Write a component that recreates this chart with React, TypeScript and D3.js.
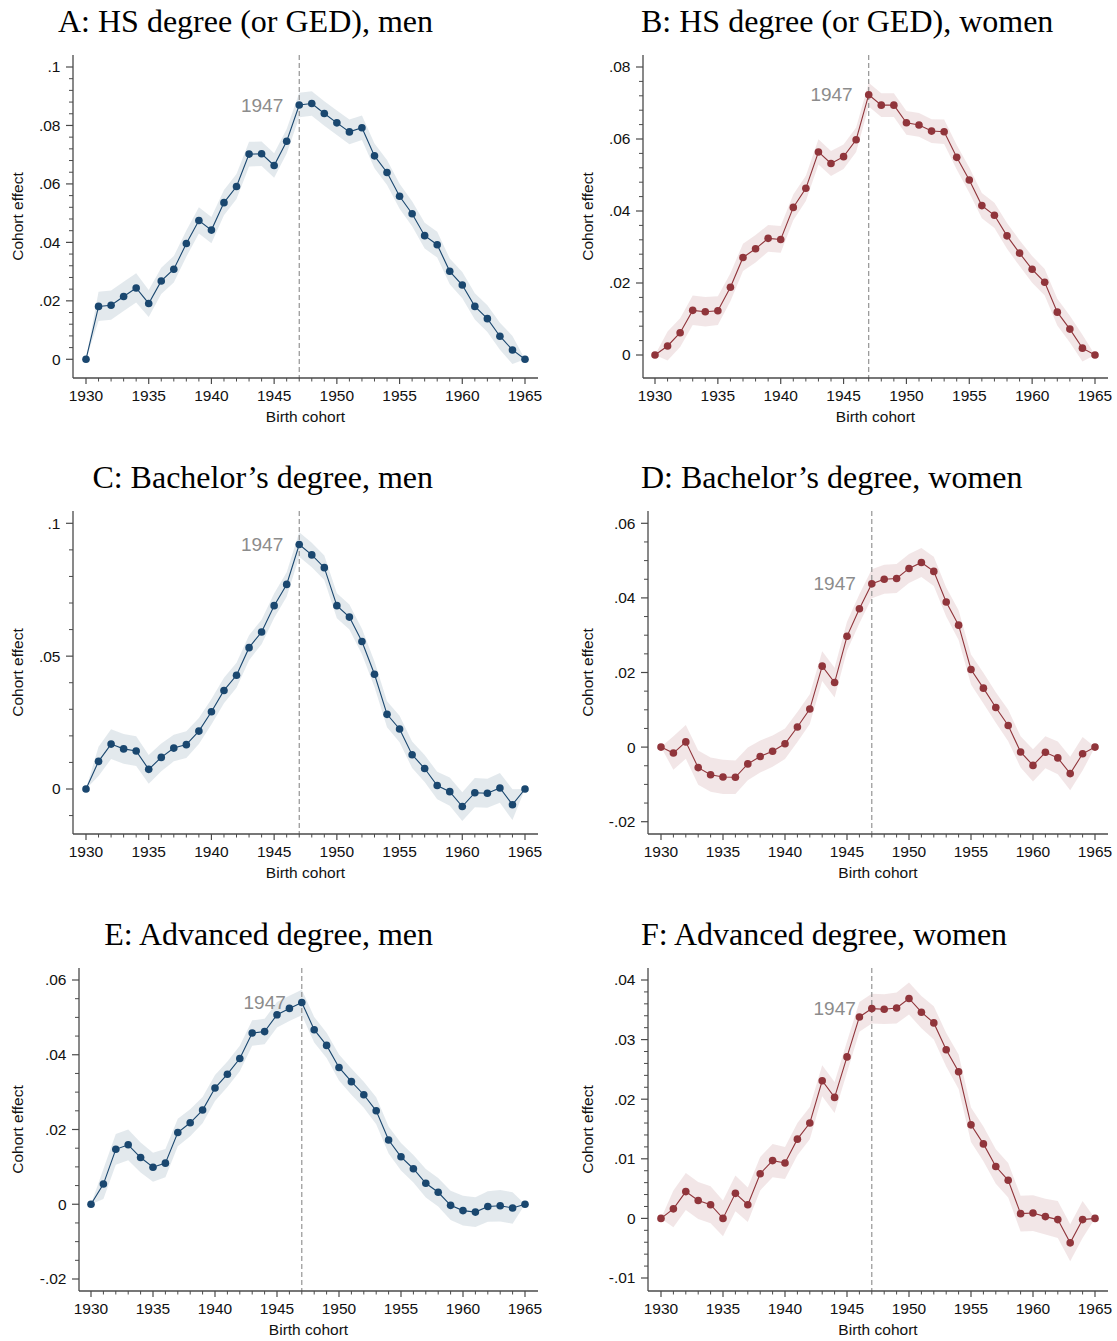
import React from 'react';
import * as d3 from 'd3';

// birth cohorts on the x axis
const cohorts = [
  1930, 1931, 1932, 1933, 1934, 1935, 1936, 1937, 1938, 1939, 1940, 1941,
  1942, 1943, 1944, 1945, 1946, 1947, 1948, 1949, 1950, 1951, 1952, 1953,
  1954, 1955, 1956, 1957, 1958, 1959, 1960, 1961, 1962, 1963, 1964, 1965,
];
const xTicks = [1930, 1935, 1940, 1945, 1950, 1955, 1960, 1965];
const markYear = 1947;

// cohort effects (point estimates)
const hsMen = [
  0, 0.0181, 0.0185, 0.0215, 0.0244, 0.0191, 0.0268, 0.0308, 0.0396, 0.0475, 0.0442, 0.0536,
  0.0591, 0.0702, 0.0703, 0.0663, 0.0746, 0.087, 0.0875, 0.0841, 0.0809, 0.0778, 0.0792, 0.0696,
  0.0639, 0.0558, 0.0498, 0.0423, 0.0392, 0.0301, 0.0254, 0.0181, 0.0139, 0.0079, 0.0032, 0,
];
const hsWomen = [
  0, 0.0025, 0.0062, 0.0124, 0.012, 0.0123, 0.0188, 0.0271, 0.0295, 0.0324, 0.0321, 0.041,
  0.0463, 0.0564, 0.0532, 0.0551, 0.0598, 0.0723, 0.0694, 0.0694, 0.0645, 0.0639, 0.0622, 0.062,
  0.0549, 0.0486, 0.0415, 0.0388, 0.0331, 0.0283, 0.0238, 0.0202, 0.0119, 0.0072, 0.0019, 0,
];
const baMen = [
  0, 0.0104, 0.0169, 0.0151, 0.0143, 0.0074, 0.0119, 0.0154, 0.0167, 0.0218, 0.0291, 0.0371,
  0.0428, 0.0532, 0.0591, 0.069, 0.077, 0.092, 0.0881, 0.0833, 0.069, 0.0647, 0.0555, 0.0432,
  0.0281, 0.0226, 0.0129, 0.0077, 0.0013, -0.001, -0.0066, -0.0014, -0.0016, 0.0004, -0.0059, 0,
];
const baWomen = [
  0, -0.0016, 0.0014, -0.0055, -0.0074, -0.008, -0.0081, -0.0045, -0.0025, -0.0011, 0.0009, 0.0054,
  0.0102, 0.0217, 0.0173, 0.0297, 0.0371, 0.0438, 0.045, 0.0452, 0.0479, 0.0495, 0.0471, 0.0389,
  0.0327, 0.0208, 0.0158, 0.0106, 0.0058, -0.0013, -0.0049, -0.0014, -0.0029, -0.0071, -0.0018, 0,
];
const advMen = [
  0, 0.0054, 0.0147, 0.0159, 0.0125, 0.0099, 0.011, 0.0192, 0.0218, 0.0252, 0.0311, 0.0348,
  0.039, 0.0458, 0.0462, 0.0507, 0.0524, 0.054, 0.0467, 0.0425, 0.0366, 0.0328, 0.0293, 0.025,
  0.0172, 0.0127, 0.0095, 0.0056, 0.0032, -0.0003, -0.0017, -0.0021, -0.0006, -0.0004, -0.001, 0,
];
const advWomen = [
  0, 0.0016, 0.0045, 0.003, 0.0023, 0, 0.0042, 0.0023, 0.0075, 0.0097, 0.0093, 0.0133,
  0.016, 0.0231, 0.0203, 0.0271, 0.0338, 0.0352, 0.0351, 0.0353, 0.0369, 0.0346, 0.0328, 0.0283,
  0.0246, 0.0157, 0.0125, 0.0087, 0.0064, 0.0008, 0.0009, 0.0003, -0.0002, -0.0041, -0.0002, 0,
];

// half-widths of the confidence bands
const hsMenCI = [
  0, 0.005, 0.005, 0.005, 0.005, 0.0046, 0.0045, 0.0045, 0.0045, 0.0045, 0.0045, 0.0043,
  0.0043, 0.0042, 0.0042, 0.0042, 0.0042, 0.0042, 0.0042, 0.0042, 0.0042, 0.0042, 0.0042, 0.0042,
  0.0043, 0.0043, 0.0043, 0.0044, 0.0044, 0.0044, 0.0045, 0.0045, 0.0046, 0.0046, 0.0048, 0,
];
const hsWomenCI = [
  0, 0.004, 0.004, 0.0041, 0.0041, 0.004, 0.0039, 0.0038, 0.0038, 0.0037, 0.0037, 0.0036,
  0.0035, 0.0035, 0.0035, 0.0034, 0.0034, 0.0033, 0.0033, 0.0033, 0.0033, 0.0033, 0.0033, 0.0034,
  0.0034, 0.0035, 0.0035, 0.0035, 0.0036, 0.0036, 0.0037, 0.0037, 0.0037, 0.0037, 0.0037, 0,
];
const baMenCI = [
  0, 0.0055, 0.0056, 0.0056, 0.0056, 0.0054, 0.0052, 0.005, 0.005, 0.0049, 0.0048, 0.0048,
  0.0047, 0.0047, 0.0046, 0.0046, 0.0046, 0.0046, 0.0046, 0.0046, 0.0047, 0.0047, 0.0048, 0.0048,
  0.0049, 0.005, 0.005, 0.0051, 0.0052, 0.0053, 0.0054, 0.0055, 0.0055, 0.0056, 0.0058, 0,
];
const baWomenCI = [
  0, 0.0045, 0.0045, 0.0046, 0.0046, 0.0046, 0.0045, 0.0044, 0.0043, 0.0042, 0.0041, 0.004,
  0.004, 0.004, 0.004, 0.0039, 0.0039, 0.0039, 0.0039, 0.0039, 0.0039, 0.0039, 0.0039, 0.0039,
  0.004, 0.004, 0.0041, 0.0041, 0.0042, 0.0042, 0.0043, 0.0043, 0.0044, 0.0045, 0.0045, 0,
];
const advMenCI = [
  0, 0.004, 0.0041, 0.0041, 0.004, 0.0039, 0.0038, 0.0037, 0.0036, 0.0035, 0.0035, 0.0034,
  0.0034, 0.0034, 0.0034, 0.0034, 0.0034, 0.0034, 0.0034, 0.0034, 0.0035, 0.0035, 0.0035, 0.0036,
  0.0036, 0.0037, 0.0037, 0.0038, 0.0038, 0.0039, 0.004, 0.004, 0.0041, 0.0042, 0.0042, 0,
];
const advWomenCI = [
  0, 0.0031, 0.0031, 0.0031, 0.0031, 0.003, 0.003, 0.0029, 0.0028, 0.0028, 0.0027, 0.0027,
  0.0027, 0.0026, 0.0026, 0.0026, 0.0025, 0.0025, 0.0025, 0.0026, 0.0027, 0.0027, 0.0028, 0.0028,
  0.0029, 0.0029, 0.0029, 0.0029, 0.0029, 0.003, 0.003, 0.003, 0.0031, 0.0031, 0.0031, 0,
];

// y tick labels
const ticksHsMen = [0, 0.02, 0.04, 0.06, 0.08, 0.1];
const ticksHsWomen = [0, 0.02, 0.04, 0.06, 0.08];
const ticksBaMen = [0, 0.05, 0.1];
const ticksBaWomen = [-0.02, 0, 0.02, 0.04, 0.06];
const ticksAdvMen = [-0.02, 0, 0.02, 0.04, 0.06];
const ticksAdvWomen = [-0.01, 0, 0.01, 0.02, 0.03, 0.04];

const titles = [
  'A: HS degree (or GED), men',
  'B: HS degree (or GED), women',
  'C: Bachelor\u2019s degree, men',
  'D: Bachelor\u2019s degree, women',
  'E: Advanced degree, men',
  'F: Advanced degree, women',
];

const NAVY = '#1a476f';
const MAROON = '#90353b';
const AXIS = '#4a4a4a';
const SANS = '"Liberation Sans", Arial, Helvetica, sans-serif';
const SERIF = '"Liberation Serif", "Times New Roman", serif';

// pixel layout of each panel
const panels = [
  { title: titles[0], values: hsMen, ci: hsMenCI, ticks: ticksHsMen, minor: 0.004, color: NAVY,
    left: 73, right: 538, top: 55, bottom: 378, x0: 86, x1: 525, yTopPx: 67, yBotPx: 359.3, side: 'L' },
  { title: titles[1], values: hsWomen, ci: hsWomenCI, ticks: ticksHsWomen, minor: 0.004, color: MAROON,
    left: 643, right: 1108, top: 55, bottom: 378, x0: 655, x1: 1095, yTopPx: 67, yBotPx: 355, side: 'R' },
  { title: titles[2], values: baMen, ci: baMenCI, ticks: ticksBaMen, minor: 0.01, minorFrom: -0.01, color: NAVY,
    left: 73, right: 538, top: 511, bottom: 834, x0: 86, x1: 525, yTopPx: 523.3, yBotPx: 789, side: 'L' },
  { title: titles[3], values: baWomen, ci: baWomenCI, ticks: ticksBaWomen, minor: 0.005, color: MAROON,
    left: 648, right: 1108, top: 511, bottom: 834, x0: 661, x1: 1095, yTopPx: 523.3, yBotPx: 821.7, side: 'R' },
  { title: titles[4], values: advMen, ci: advMenCI, ticks: ticksAdvMen, minor: 0.005, color: NAVY,
    left: 79, right: 538, top: 968, bottom: 1291, x0: 91, x1: 525, yTopPx: 980, yBotPx: 1279, side: 'L' },
  { title: titles[5], values: advWomen, ci: advWomenCI, ticks: ticksAdvWomen, minor: 0.002, color: MAROON,
    left: 648, right: 1108, top: 968, bottom: 1291, x0: 661, x1: 1095, yTopPx: 980, yBotPx: 1278, side: 'R' },
];

const fmt = (v: number) => {
  if (Math.abs(v) < 1e-9) return '0';
  return String(+v.toFixed(3)).replace(/^(-?)0\./, '$1.');
};

function Panel({ p }: { p: any }) {
  const x = d3.scaleLinear().domain([1930, 1965]).range([p.x0, p.x1]);
  const yMax = p.ticks[p.ticks.length - 1];
  const yMin = p.ticks[0];
  const y = d3.scaleLinear().domain([yMin, yMax]).range([p.yBotPx, p.yTopPx]);

  const rows = cohorts.map((c, i) => ({ c, v: p.values[i], h: p.ci[i] }));
  const area = d3.area<any>().x(d => x(d.c)).y0(d => y(d.v - d.h)).y1(d => y(d.v + d.h));
  const line = d3.line<any>().x(d => x(d.c)).y(d => y(d.v));

  const minorFrom = p.minorFrom ?? yMin;
  const minorTicks = d3.range(minorFrom, yMax + p.minor / 2, p.minor)
    .filter(t => !p.ticks.some((m: number) => Math.abs(m - t) < 1e-7));
  const minorX = cohorts.filter(c => !xTicks.includes(c));

  const mi = cohorts.indexOf(markYear);
  const xm = x(markYear);
  const midY = (p.top + p.bottom) / 2;

  return (
    <g>
      <text
        x={p.side === 'L' ? 433 : 641}
        y={p.top - 23.5}
        textAnchor={p.side === 'L' ? 'end' : 'start'}
        fontFamily={SERIF}
        fontSize={32}
        fill="#000"
      >
        {p.title}
      </text>

      <path d={area(rows) || ''} fill={p.color} fillOpacity={0.12} stroke="none" />

      <line x1={xm} x2={xm} y1={p.top} y2={p.bottom} stroke="#8a8a8a" strokeWidth={1.1} strokeDasharray="5,3" />
      <text x={xm - 16} y={y(p.values[mi])} dy="0.35em" textAnchor="end" fontFamily={SANS} fontSize={19} fill="#8c8c8c">
        {markYear}
      </text>

      <path d={line(rows) || ''} fill="none" stroke={p.color} strokeWidth={1.1} />
      {rows.map(d => (
        <circle key={d.c} cx={x(d.c)} cy={y(d.v)} r={3.8} fill={p.color} />
      ))}

      {/* y axis */}
      <line x1={p.left} x2={p.left} y1={p.top} y2={p.bottom} stroke={AXIS} strokeWidth={1.3} />
      {p.ticks.map((t: number) => (
        <g key={t}>
          <line x1={p.left - 7} x2={p.left} y1={y(t)} y2={y(t)} stroke={AXIS} strokeWidth={1.2} />
          <text x={p.left - 12.5} y={y(t)} dy="0.35em" textAnchor="end" fontFamily={SANS} fontSize={15.5} fill="#111">
            {fmt(t)}
          </text>
        </g>
      ))}
      {minorTicks.map(t => (
        <line key={t} x1={p.left - 4} x2={p.left} y1={y(t)} y2={y(t)} stroke={AXIS} strokeWidth={1} />
      ))}
      <text
        transform={`translate(${p.side === 'L' ? 17.5 : 587.5},${midY}) rotate(-90)`}
        dy="0.35em"
        textAnchor="middle"
        fontFamily={SANS}
        fontSize={15.5}
        fill="#111"
      >
        Cohort effect
      </text>

      {/* x axis */}
      <line x1={p.left} x2={p.right} y1={p.bottom} y2={p.bottom} stroke={AXIS} strokeWidth={1.3} />
      {xTicks.map(t => (
        <g key={t}>
          <line x1={x(t)} x2={x(t)} y1={p.bottom} y2={p.bottom + 6} stroke={AXIS} strokeWidth={1.2} />
          <text x={x(t)} y={p.bottom + 17.5} dy="0.35em" textAnchor="middle" fontFamily={SANS} fontSize={15.5} fill="#111">
            {t}
          </text>
        </g>
      ))}
      {minorX.map(t => (
        <line key={t} x1={x(t)} x2={x(t)} y1={p.bottom} y2={p.bottom + 3.5} stroke={AXIS} strokeWidth={1} />
      ))}
      <text x={(p.left + p.right) / 2} y={p.bottom + 38.5} dy="0.35em" textAnchor="middle" fontFamily={SANS} fontSize={15.5} fill="#111">
        Birth cohort
      </text>
    </g>
  );
}

export default function App() {
  return (
    <div style={{ position: 'absolute', left: 0, top: 0 }}>
      <svg width={1117} height={1341} style={{ display: 'block', background: '#fff' }}>
        {panels.map((p, i) => (
          <Panel key={i} p={p} />
        ))}
      </svg>
    </div>
  );
}
